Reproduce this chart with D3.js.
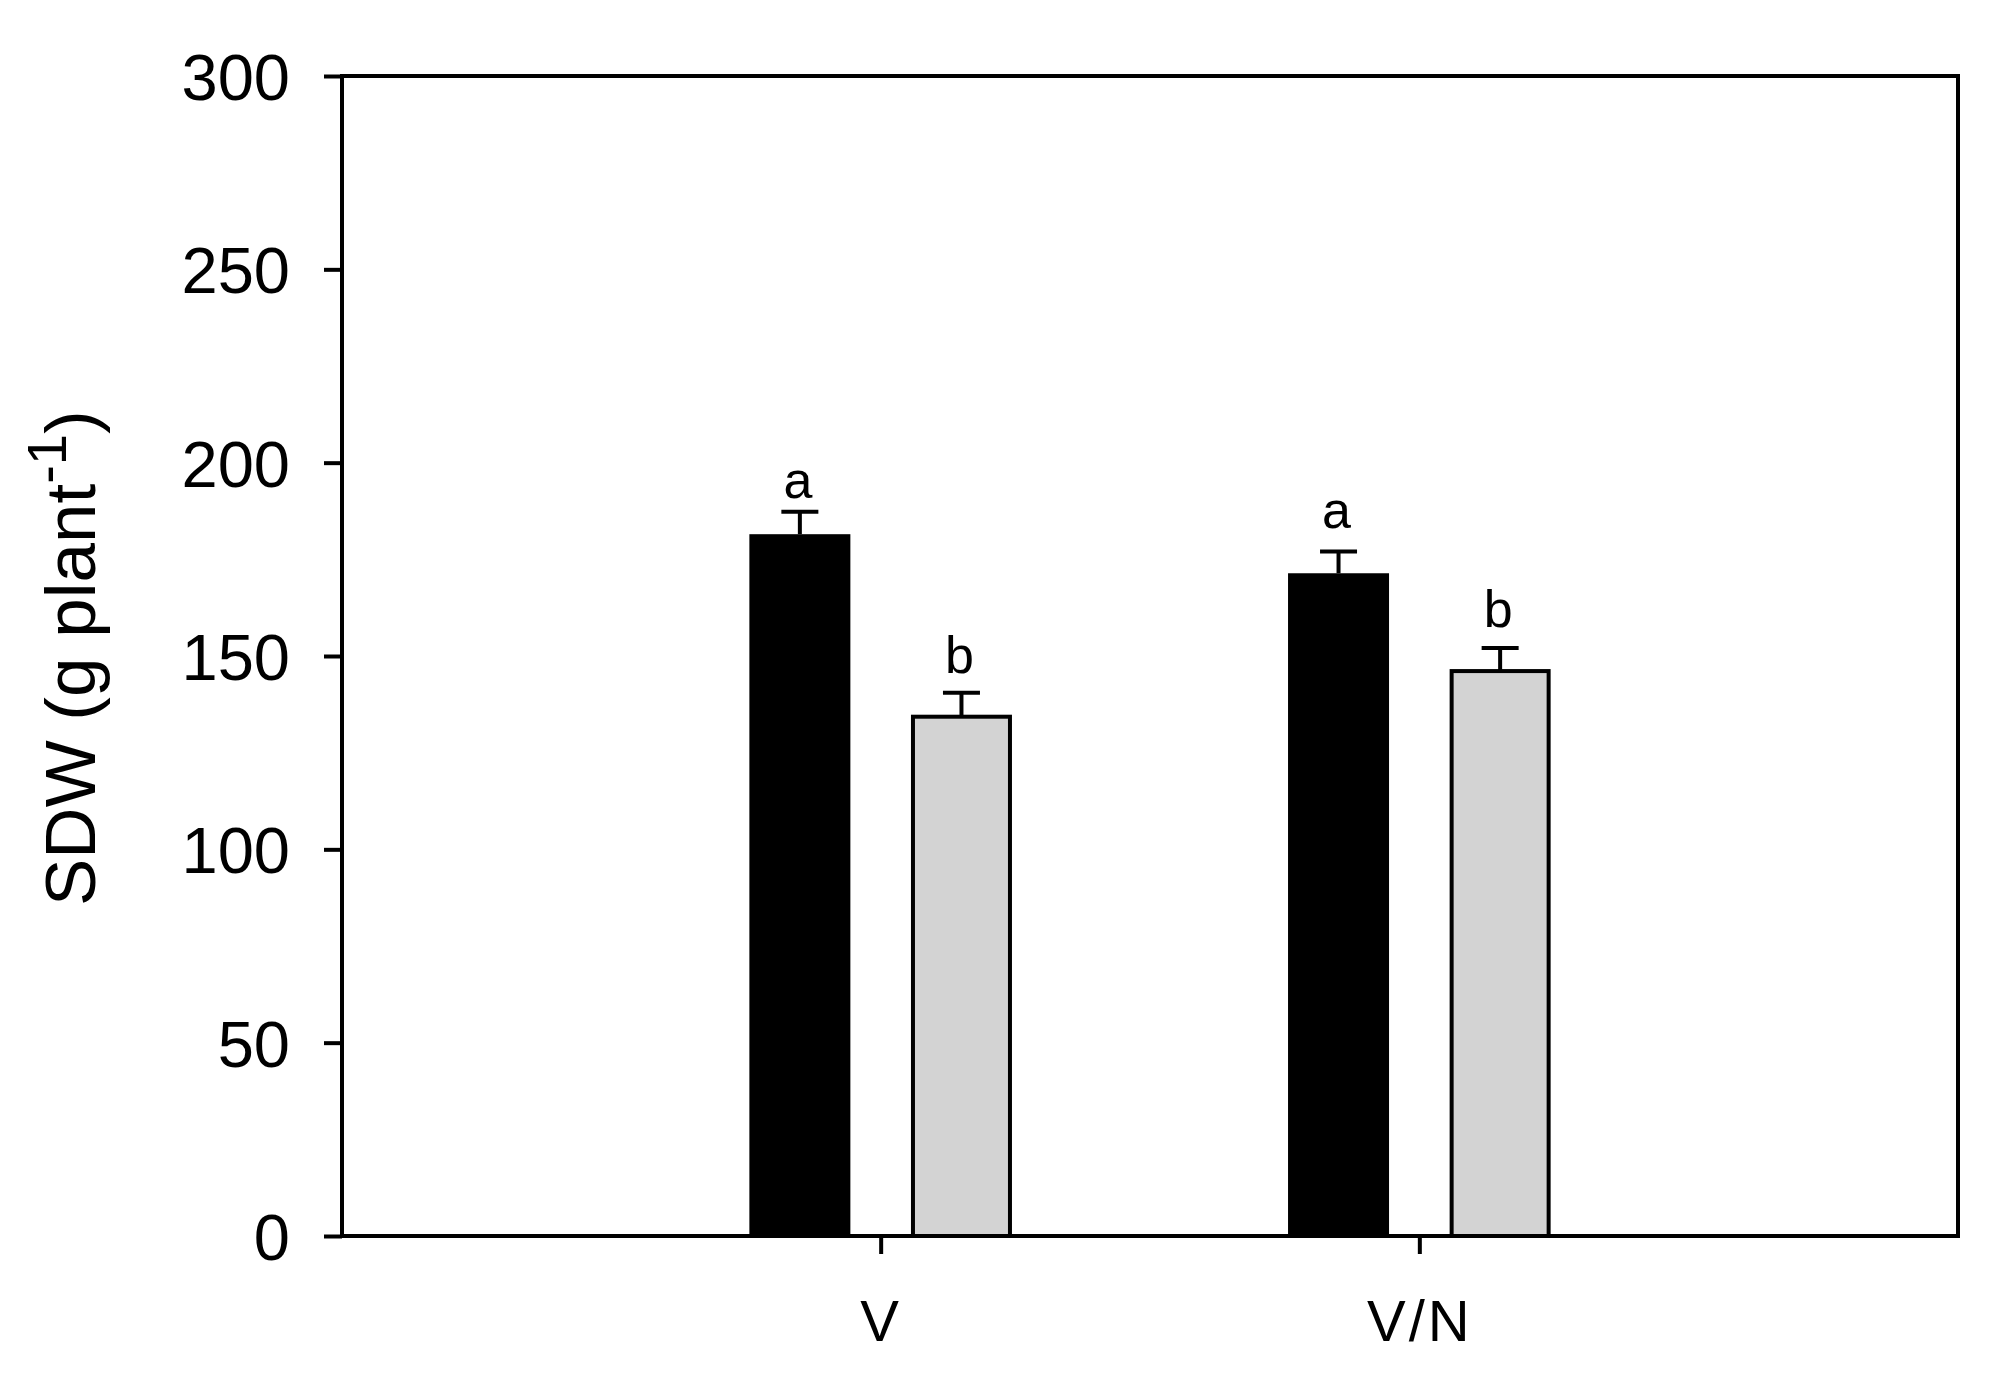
<!DOCTYPE html>
<html>
<head>
<meta charset="utf-8">
<script src="https://cdn.jsdelivr.net/npm/d3@7"></script>
<style>
  html, body { margin: 0; padding: 0; background: #fff; }
  svg { display: block; }
  text { font-family: "Liberation Sans", Arial, Helvetica, sans-serif; fill: #000; }
</style>
</head>
<body>
<script>
// ---- data ----
const categories = ["V", "V/N"];
const series = ["black", "gray"];
const meanBlack = [181.5, 171.4];
const seBlack = [5.8, 5.6];
const meanGray = [134.3, 146.1];
const seGray = [6.2, 6.0];
const letterBlack = ["a", "a"];
const letterGray = ["b", "b"];
const letterAtBlack = [190.8, 183.0];
const letterAtGray = [145.6, 157.6];
const yTicks = [0, 50, 100, 150, 200, 250, 300];

// ---- layout ----
const W = 2013, H = 1381;
const pL = 342, pR = 1958, pT = 76, pB = 1236;
const AXW = 4;

const svg = d3.select("body").append("svg").attr("width", W).attr("height", H);

const x = d3.scalePoint().domain(categories).range([pL, pR]).padding(1);
const xs = d3.scaleBand().domain(series).range([-131.3, 131.3]).paddingInner(0.375).paddingOuter(0);
const y = d3.scaleLinear().domain([0, 300]).range([pB, pT]);

const rows = categories.map((c, i) => [
  { cat: c, s: "black", v: meanBlack[i], se: seBlack[i], L: letterBlack[i], la: letterAtBlack[i] },
  { cat: c, s: "gray", v: meanGray[i], se: seGray[i], L: letterGray[i], la: letterAtGray[i] }
]).flat();

// bars
const bw = xs.bandwidth();
svg.append("g").selectAll("rect").data(rows).join("rect")
  .attr("x", d => x(d.cat) + xs(d.s) + (d.s === "gray" ? AXW / 2 : 0))
  .attr("width", d => bw - (d.s === "gray" ? AXW : 0))
  .attr("y", d => y(d.v))
  .attr("height", d => y(0) - y(d.v))
  .attr("fill", d => d.s === "black" ? "#000" : "#d3d3d3")
  .attr("stroke", d => d.s === "black" ? "none" : "#000")
  .attr("stroke-width", AXW);

// error bars (upper only)
const eg = svg.append("g").attr("stroke", "#000").attr("stroke-width", AXW).attr("fill", "none");
rows.forEach(d => {
  const cx = x(d.cat) + xs(d.s) + bw / 2;
  eg.append("line").attr("x1", cx).attr("x2", cx).attr("y1", y(d.v)).attr("y2", y(d.v + d.se));
  eg.append("line").attr("x1", cx - 18.5).attr("x2", cx + 18.5).attr("y1", y(d.v + d.se)).attr("y2", y(d.v + d.se));
});

// significance letters
svg.append("g").selectAll("text").data(rows).join("text")
  .attr("x", d => x(d.cat) + xs(d.s) + bw / 2 - 2)
  .attr("y", d => y(d.la))
  .attr("text-anchor", "middle")
  .attr("font-size", 52)
  .text(d => d.L);

// frame
svg.append("rect")
  .attr("x", pL).attr("y", pT)
  .attr("width", pR - pL).attr("height", pB - pT)
  .attr("fill", "none").attr("stroke", "#000").attr("stroke-width", AXW);

// y axis
const yAxis = d3.axisLeft(y).tickValues(yTicks).tickSize(18).tickPadding(34).tickSizeOuter(0);
const gy = svg.append("g").attr("transform", `translate(${pL},0)`).call(yAxis);
gy.select(".domain").remove();
gy.attr("font-family", null).attr("font-size", null);
gy.selectAll(".tick line").attr("stroke", "#000").attr("stroke-width", AXW);
gy.selectAll(".tick text").attr("font-size", 65).attr("dy", "0.36em").attr("fill", "#000");

// x axis
const xAxis = d3.axisBottom(x).tickSize(18).tickPadding(46).tickSizeOuter(0);
const gx = svg.append("g").attr("transform", `translate(0,${pB})`).call(xAxis);
gx.select(".domain").remove();
gx.attr("font-family", null).attr("font-size", null);
gx.selectAll(".tick line").attr("stroke", "#000").attr("stroke-width", AXW);
gx.selectAll(".tick text").attr("font-size", 58).attr("letter-spacing", 3).attr("dy", "0.71em").attr("fill", "#000");

// y title
const t = svg.append("text")
  .attr("transform", "translate(95,906) rotate(-90)")
  .attr("font-size", 71);
t.append("tspan").text("SDW (g plant");
t.append("tspan").attr("font-size", 56).attr("dy", -29).text("-1");
t.append("tspan").attr("dy", 29).text(")");
</script>
</body>
</html>
